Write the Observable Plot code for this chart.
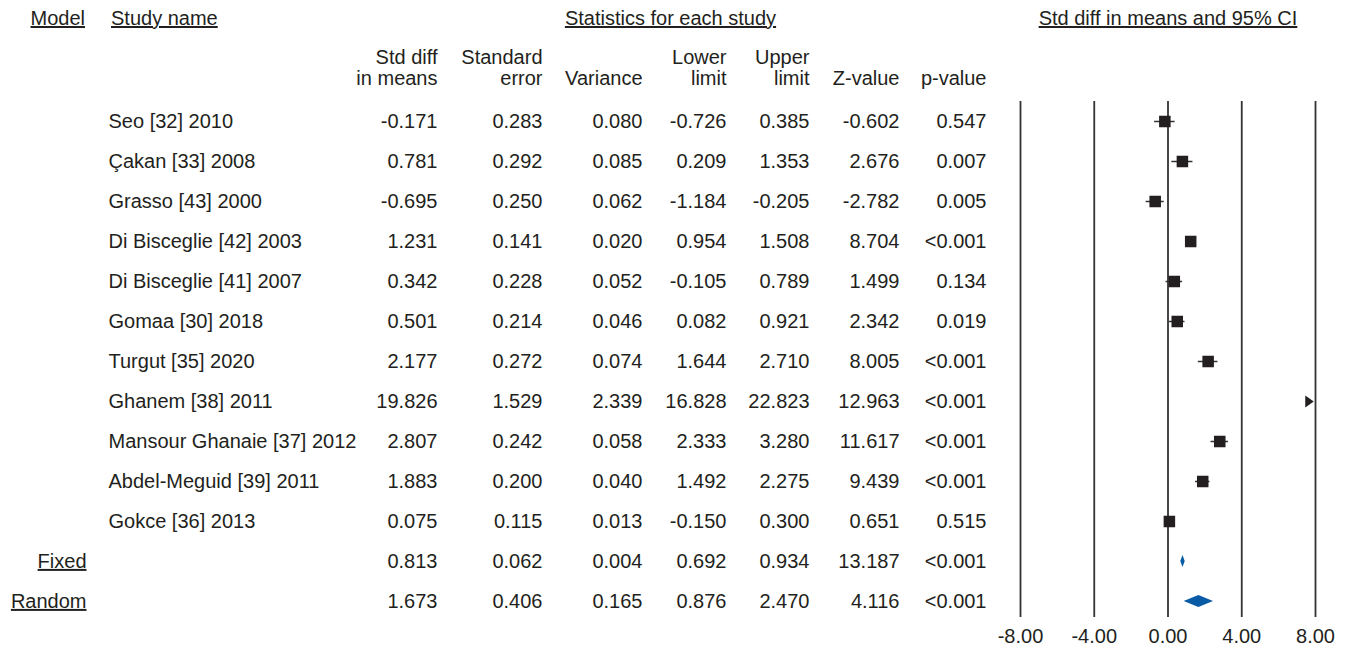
<!DOCTYPE html>
<html>
<head>
<meta charset="utf-8">
<script src="https://cdn.jsdelivr.net/npm/d3@7"></script>
<script src="https://cdn.jsdelivr.net/npm/@observablehq/plot@0.6"></script>
<style>
  html, body { margin: 0; padding: 0; background: #fff; }
  #chart { width: 1346px; height: 648px; display: flex; font-family: "Liberation Sans", Arial, sans-serif; color: #231f20; }
  .group { display: flex; flex-direction: column; flex: none; }
  .ghead { height: 36px; line-height: 36px; font-size: 20px; text-decoration: underline; white-space: nowrap; }
  .gbody { display: flex; flex: none; }
  .gbody svg { flex: none; max-width: none; }
</style>
</head>
<body>
<div id="chart"></div>
<script>
// ---- data ----
const studyNames = ["Seo [32] 2010", "Çakan [33] 2008", "Grasso [43] 2000", "Di Bisceglie [42] 2003",
  "Di Bisceglie [41] 2007", "Gomaa [30] 2018", "Turgut [35] 2020", "Ghanem [38] 2011",
  "Mansour Ghanaie [37] 2012", "Abdel-Meguid [39] 2011", "Gokce [36] 2013"];
const modelLabels = ["Fixed", "Random"];
const stdDiff = [-0.171, 0.781, -0.695, 1.231, 0.342, 0.501, 2.177, 19.826, 2.807, 1.883, 0.075, 0.813, 1.673];
const stdErr = [0.283, 0.292, 0.250, 0.141, 0.228, 0.214, 0.272, 1.529, 0.242, 0.200, 0.115, 0.062, 0.406];
const varianceVals = [0.080, 0.085, 0.062, 0.020, 0.052, 0.046, 0.074, 2.339, 0.058, 0.040, 0.013, 0.004, 0.165];
const lowerLimit = [-0.726, 0.209, -1.184, 0.954, -0.105, 0.082, 1.644, 16.828, 2.333, 1.492, -0.150, 0.692, 0.876];
const upperLimit = [0.385, 1.353, -0.205, 1.508, 0.789, 0.921, 2.710, 22.823, 3.280, 2.275, 0.300, 0.934, 2.470];
const zValue = [-0.602, 2.676, -2.782, 8.704, 1.499, 2.342, 8.005, 12.963, 11.617, 9.439, 0.651, 13.187, 4.116];
const pValue = ["0.547", "0.007", "0.005", "<0.001", "0.134", "0.019", "<0.001", "<0.001", "<0.001", "<0.001", "0.515", "<0.001", "<0.001"];
const xTicks = [-8, -4, 0, 4, 8];
const xDomain = [-8, 8];

// ---- table built from the arrays ----
const labels = studyNames.concat(modelLabels);
const rows = labels.map((name, i) => ({
  i, name, pooled: i >= studyNames.length,
  est: stdDiff[i], se: stdErr[i], v: varianceVals[i],
  lower: lowerLimit[i], upper: upperLimit[i], z: zValue[i], p: pValue[i]
}));
const f3 = d => d.toFixed(3);

// ---- layout / style ----
const ink = "#231f20";
const lineInk = "#333";
const blue = "#0a5ba6";
const font = "'Liberation Sans', Arial, sans-serif";
const fs = 20;
const bodyH = 612;
const rowRange = [85, 565];
const headerBaseline = 48;
const svgStyle = {fontFamily: font, fontSize: fs + "px", color: ink, background: "transparent", overflow: "visible"};
const yScale = {axis: null, domain: [0, rows.length - 1], range: rowRange};

function columnPlot({width, align, pad, header, data, text, underline}) {
  const right = align === "right";
  const marks = [
    Plot.text(data, {y: "i", text, frameAnchor: right ? "right" : "left", textAnchor: right ? "end" : "start",
      lineAnchor: "middle", fontSize: fs, fill: ink})
  ];
  if (header) marks.push(Plot.text([header], {text: d => d, frameAnchor: right ? "top-right" : "top-left",
    textAnchor: right ? "end" : "start", lineAnchor: "bottom", dy: headerBaseline, lineHeight: 1.05, fontSize: fs, fill: ink}));
  const svg = Plot.plot({
    width, height: bodyH, marginTop: 0, marginBottom: 0,
    marginLeft: right ? 0 : pad, marginRight: right ? pad : 0,
    style: svgStyle, y: yScale, marks
  });
  if (underline) svg.querySelectorAll("text").forEach(t => t.setAttribute("text-decoration", "underline"));
  return svg;
}

function group(width, title, headStyle, plots) {
  const g = document.createElement("div");
  g.className = "group";
  g.style.width = width + "px";
  const h = document.createElement("div");
  h.className = "ghead";
  Object.assign(h.style, headStyle);
  h.textContent = title;
  const b = document.createElement("div");
  b.className = "gbody";
  plots.forEach(p => b.appendChild(p));
  g.appendChild(h); g.appendChild(b);
  return g;
}

const chart = document.getElementById("chart");

// Model column
chart.appendChild(group(90, "Model", {textAlign: "right", paddingRight: "5px"}, [
  columnPlot({width: 90, align: "right", pad: 4, data: rows.filter(d => d.pooled), text: "name", underline: true})
]));

// Study name column
chart.appendChild(group(261, "Study name", {textAlign: "left", paddingLeft: "21px"}, [
  columnPlot({width: 261, align: "left", pad: 18, data: rows.filter(d => !d.pooled), text: "name"})
]));

// Statistics columns
const statCols = [
  {width: 90, header: "Std diff\nin means", text: d => f3(d.est)},
  {width: 105, header: "Standard\nerror", text: d => f3(d.se)},
  {width: 100, header: "Variance", text: d => f3(d.v)},
  {width: 84, header: "Lower\nlimit", text: d => f3(d.lower)},
  {width: 83, header: "Upper\nlimit", text: d => f3(d.upper)},
  {width: 90, header: "Z-value", text: d => f3(d.z)},
  {width: 87, header: "p-value", text: d => d.p}
];
chart.appendChild(group(d3.sum(statCols, c => c.width), "Statistics for each study", {textAlign: "center"},
  statCols.map(c => columnPlot({width: c.width, align: "right", pad: 4, header: c.header, data: rows, text: c.text}))
));

// Forest plot
const inRange = rows.filter(d => !d.pooled && d.est <= xDomain[1] && d.est >= xDomain[0]);
const outRange = rows.filter(d => !d.pooled && d.est > xDomain[1]);
const halfH = 0.15;
const diamondPts = rows.filter(d => d.pooled).flatMap(d => [
  {name: d.name, y: d.i - halfH, x1: d.est, x2: d.est},
  {name: d.name, y: d.i, x1: d.lower, x2: d.upper},
  {name: d.name, y: d.i + halfH, x1: d.est, x2: d.est}
]);
const rightTriangle = {
  draw(ctx, size) {
    const s = Math.sqrt(size);
    ctx.moveTo(s * 0.5, 0);
    ctx.lineTo(-s * 0.5, -s * 0.7);
    ctx.lineTo(-s * 0.5, s * 0.7);
    ctx.closePath();
  }
};
const forest = Plot.plot({
  width: 356, height: bodyH, marginTop: 65, marginBottom: 31, marginLeft: 30, marginRight: 31,
  style: svgStyle,
  x: {domain: xDomain, clamp: true},
  y: yScale,
  marks: [
    Plot.ruleX(xTicks, {stroke: lineInk, strokeWidth: 1.8}),
    Plot.axisX({ticks: xTicks, tickSize: 0, tickPadding: 11, tickFormat: d => d.toFixed(2), label: null, fill: ink}),
    Plot.ruleY(inRange, {y: "i", x1: "lower", x2: "upper", stroke: lineInk, strokeWidth: 1.5}),
    Plot.dot(inRange, {x: "est", y: "i", symbol: "square", r: 6.5, fill: ink, stroke: null}),
    Plot.dot(outRange, {x: "est", y: "i", symbol: rightTriangle, r: 4.8, fill: ink, stroke: null, dx: -6}),
    Plot.areaX(diamondPts, {y: "y", x1: "x1", x2: "x2", z: "name", fill: blue, curve: "linear"})
  ]
});
chart.appendChild(group(356, "Std diff in means and 95% CI", {textAlign: "center"}, [forest]));
</script>
</body>
</html>
